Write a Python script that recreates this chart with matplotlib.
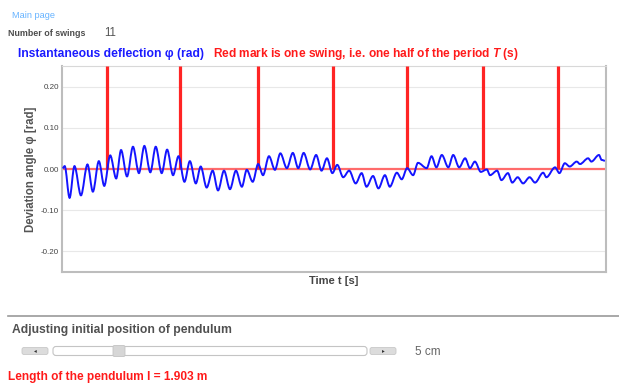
import numpy as np
import matplotlib
matplotlib.use("Agg")
import matplotlib.pyplot as plt
from matplotlib.path import Path
from matplotlib.patches import PathPatch, FancyBboxPatch

plt.rcParams['font.family'] = ['Liberation Sans', 'DejaVu Sans']
plt.rcParams['mathtext.fontset'] = 'custom'
plt.rcParams['mathtext.it'] = 'Liberation Sans:italic:bold'
plt.rcParams['mathtext.rm'] = 'Liberation Sans:bold'

# deflection curve, read at the turning points (time in s, angle in rad)
t_ext = [0.01, 0.05, 0.14, 0.23, 0.35, 0.47, 0.57, 0.68, 0.78, 0.89,
         1.00, 1.09, 1.20, 1.31, 1.42, 1.52, 1.63, 1.73, 1.84, 1.94,
         2.05, 2.15, 2.26, 2.36, 2.47, 2.56, 2.67, 2.78, 2.88, 2.99,
         3.10, 3.21, 3.32, 3.41, 3.52, 3.62, 3.71, 3.82, 3.93, 4.03,
         4.15, 4.26, 4.36, 4.46, 4.58, 4.69, 4.79, 4.89, 4.99, 5.08,
         5.19, 5.30, 5.42, 5.53, 5.62, 5.74, 5.84, 5.96, 6.05, 6.18,
         6.27, 6.37, 6.48, 6.57, 6.73, 6.82, 6.91, 7.01, 7.13, 7.22,
         7.33, 7.44, 7.53, 7.62, 7.73, 7.84, 7.90, 8.03, 8.11, 8.23,
         8.31, 8.41, 8.51, 8.63, 8.73, 8.88, 8.94, 9.10, 9.18, 9.28,
         9.37, 9.50, 9.56, 9.71, 9.77, 9.91, 9.96, 10.02]
phi_ext = [0.002, 0.007, -0.070, 0.007, -0.064, 0.011, -0.055, 0.019, -0.041, 0.033,
           -0.023, 0.046, -0.018, 0.054, -0.010, 0.056, -0.008, 0.054, -0.010, 0.047,
           -0.015, 0.031, -0.031, 0.019, -0.035, 0.006, -0.045, -0.004, -0.052, -0.004,
           -0.049, -0.004, -0.043, -0.002, -0.031, 0.012, -0.015, 0.031, -0.002, 0.038,
           0.002, 0.039, 0.002, 0.039, -0.001, 0.034, -0.004, 0.026, -0.010, 0.010,
           -0.020, -0.004, -0.035, -0.010, -0.043, -0.017, -0.047, -0.015, -0.043, -0.009,
           -0.025, 0.002, -0.015, 0.015, 0.002, 0.031, 0.004, 0.034, 0.004, 0.034,
           0.004, 0.026, 0.002, 0.018, -0.007, -0.001, -0.015, -0.004, -0.027, -0.010,
           -0.033, -0.020, -0.035, -0.020, -0.033, -0.009, -0.020, 0.004, -0.010, 0.014,
           0.006, 0.018, 0.012, 0.026, 0.018, 0.034, 0.022, 0.020]

# times of the red swing marks (s)
swing_t = [0.83, 2.18, 3.62, 5.00, 6.37, 7.77, 9.15]
n_swings = 11
length_m = 1.903
start_cm = 5
yticks = [-0.2, -0.1, 0.0, 0.1, 0.2]

W, H = 619, 385
fig = plt.figure(figsize=(W / 100, H / 100), dpi=100)

# page layer in pixel coordinates
page = fig.add_axes([0, 0, 1, 1])
page.set_xlim(0, W)
page.set_ylim(H, 0)
page.axis('off')
page.set_zorder(-1)

page.text(12, 16, "Main page", color='#66b3ff', fontsize=6.6, va='center')
page.text(8, 34, "Number of swings", color='#4d4d4d', fontsize=6.4, fontweight='bold',
          va='center')
page.text(104, 33, str(n_swings), color='#555555', fontsize=8.3, va='center')
page.text(18, 54, "Instantaneous deflection \u03c6 (rad)", color='#1a1aff',
          fontsize=8.7, fontweight='bold', va='center')
page.text(213, 54, "Red mark is one swing, i.e. one half of the period $\\mathit{T}$ (s)",
          color='#ff1a1a', fontsize=8.6, fontweight='bold', va='center')

page.plot([8, W], [316, 316], color='#9a9a9a', lw=1.2)
page.text(12, 330, "Adjusting initial position of pendulum", color='#505050',
          fontsize=8.7, fontweight='bold', va='center')

# slider
page.add_patch(FancyBboxPatch((22, 347.5), 26, 7, boxstyle="round,pad=0,rounding_size=2",
                              fc='#dcdcdc', ec='#c8c8c8', lw=0.6))
page.add_patch(FancyBboxPatch((370, 347.5), 26, 7, boxstyle="round,pad=0,rounding_size=2",
                              fc='#dcdcdc', ec='#c8c8c8', lw=0.6))
page.text(35, 351, "\u25c2", fontsize=4, color='#333333', ha='center', va='center')
page.text(383, 351, "\u25b8", fontsize=4, color='#333333', ha='center', va='center')
page.add_patch(FancyBboxPatch((53, 346.5), 314, 9, boxstyle="round,pad=0,rounding_size=3",
                              fc='white', ec='#c4c4c4', lw=0.8))
page.add_patch(FancyBboxPatch((113, 345.5), 12, 11, boxstyle="round,pad=0,rounding_size=1.5",
                              fc='#d6d6d6', ec='#c4c4c4', lw=0.6))
page.text(415, 352, f"{start_cm} cm", color='#666666', fontsize=8.5, va='center')

page.text(8, 377, f"Length of the pendulum l = {length_m:.3f} m", color='#ff1a1a',
          fontsize=8.6, fontweight='bold', va='center')

# chart
ax = fig.add_axes([62 / W, 1 - 272 / H, (606 - 62) / W, (272 - 66) / H])
ax.set_xlim(0, 10.04)
ax.set_ylim(-0.25, 0.25)
ax.set_yticks(yticks)
ax.set_yticklabels([f"{v:.2f}" for v in yticks])
ax.set_xticks([])
ax.tick_params(axis='y', length=0, pad=2, labelsize=5.8, labelcolor='#444444')
ax.grid(axis='y', color='#e8e8e8', lw=0.8)
ax.set_axisbelow(True)
for side in ['left', 'bottom', 'right']:
    ax.spines[side].set_color('#bdbdbd')
    ax.spines[side].set_linewidth(1.5)
ax.spines['top'].set_color('#d8d8d8')
ax.spines['top'].set_linewidth(0.8)

ax.axhline(0, color='#ff6b6b', lw=1.6, zorder=2)
ax.vlines(swing_t, 0, 0.25, color='#ff2424', lw=2.3, zorder=3)

# smooth curve through the turning points (flat tangents at each extremum)
verts = [(t_ext[0], phi_ext[0])]
codes = [Path.MOVETO]
for i in range(1, len(t_ext)):
    dt = t_ext[i] - t_ext[i - 1]
    verts += [(t_ext[i - 1] + dt / 3, phi_ext[i - 1]),
              (t_ext[i] - dt / 3, phi_ext[i]),
              (t_ext[i], phi_ext[i])]
    codes += [Path.CURVE4] * 3
ax.add_patch(PathPatch(Path(verts, codes), fill=False, edgecolor='#1414ff',
                       lw=1.4, zorder=4, transform=ax.transData))

ax.set_ylabel("Deviation angle \u03c6 [rad]", fontsize=8.3, fontweight='bold',
              color='#555555', labelpad=3)
ax.set_xlabel("Time t [s]", fontsize=8, fontweight='bold', color='#444444', labelpad=3)

fig.savefig("out.png", dpi=100)
